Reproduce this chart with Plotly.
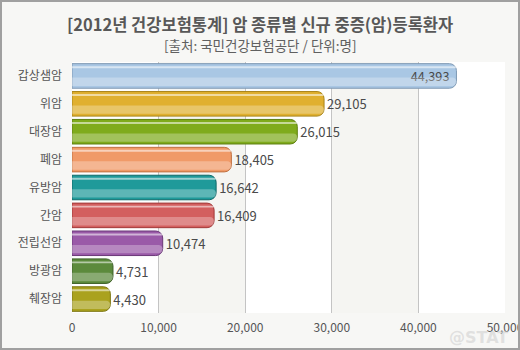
import plotly.graph_objects as go

categories = ["갑상샘암", "위암", "대장암", "폐암", "유방암", "간암", "전립선암", "방광암", "췌장암"]
patients = [44393, 29105, 26015, 18405, 16642, 16409, 10474, 4731, 4430]
base_colors = ["#a9c7e4", "#e0b030", "#7fab1c", "#f09a68", "#1f9a9a", "#d35f5f", "#9a5aa8", "#5c8a3c", "#aaa21e"]
edge_colors = ["#7d98b3", "#a88418", "#5e7f10", "#c07040", "#0f6868", "#a03838", "#6a3878", "#3e6028", "#7c7612"]
x_ticks = [0, 10000, 20000, 30000, 40000, 50000]

W, H = 520, 350
ML, MR, MT, MB = 72, 15, 62, 37
PW, PH = W - ML - MR, H - MT - MB
FONT = "Noto Sans CJK KR"

fig = go.Figure()

# base bars
fig.add_trace(go.Bar(
    y=categories, x=patients, orientation="h",
    offset=-0.44, width=0.88,
    marker=dict(color=base_colors, line=dict(color=edge_colors, width=1), cornerradius=7),
    text=[f"{v:,}" for v in patients],
    textposition=["inside"] + ["outside"] * (len(patients) - 1),
    insidetextanchor="end",
    textfont=dict(family=FONT, size=13, color="#4a4a4a"),
    cliponaxis=False, hoverinfo="skip", showlegend=False,
))
# lower lighter half (gloss)
fig.add_trace(go.Bar(
    y=categories, x=patients, orientation="h",
    offset=0.06, width=0.30,
    marker=dict(color="rgba(255,255,255,0.28)", line=dict(width=0), cornerradius=5),
    hoverinfo="skip", showlegend=False,
))
# top highlight stripe
fig.add_trace(go.Bar(
    y=categories, x=patients, orientation="h",
    offset=-0.35, width=0.07,
    marker=dict(color="rgba(255,255,255,0.55)", line=dict(width=0), cornerradius=1),
    hoverinfo="skip", showlegend=False,
))

shapes = []
# alternating bands
for a, b in [(10000, 20000), (30000, 40000)]:
    shapes.append(dict(type="rect", xref="x", yref="paper", x0=a, x1=b, y0=0, y1=1,
                       fillcolor="#f5f5f2", line=dict(width=0), layer="below"))
# outer border of the whole chart
shapes.append(dict(type="rect", xref="paper", yref="paper",
                   x0=(1 - ML) / PW, x1=(W - 1 - ML) / PW,
                   y0=-(MB - 1) / PH, y1=1 + (MT - 1) / PH,
                   line=dict(color="#a0a0a0", width=2), fillcolor="rgba(0,0,0,0)", layer="above"))

fig.update_layout(
    width=W, height=H,
    margin=dict(l=ML, r=MR, t=MT, b=MB, pad=0, autoexpand=False),
    paper_bgcolor="#f7f7f5", plot_bgcolor="#ffffff",
    barmode="overlay",
    font=dict(family=FONT, color="#555555"),
    shapes=shapes,
    annotations=[
        dict(text="<b>[2012년 건강보험통계] 암 종류별 신규 중증(암)등록환자</b>", xref="paper", yref="paper",
             x=(260 - ML) / PW, y=1 + (MT - 24) / PH, xanchor="center", yanchor="middle",
             showarrow=False, font=dict(family=FONT, size=16.5, color="#585858")),
        dict(text="[출처: 국민건강보험공단 / 단위:명]", xref="paper", yref="paper",
             x=(260 - ML) / PW, y=1 + (MT - 45) / PH, xanchor="center", yanchor="middle",
             showarrow=False, font=dict(family=FONT, size=13.5, color="#606060")),
        dict(text="<b>@STAT</b>", xref="paper", yref="paper",
             x=(478 - ML) / PW, y=-(337 - MT - PH) / PH, xanchor="center", yanchor="middle",
             showarrow=False, font=dict(family="DejaVu Sans", size=16, color="rgba(205,205,205,0.55)")),
    ],
    xaxis=dict(range=[0, 50000], tickvals=x_ticks, tickformat=",", showgrid=True,
               gridcolor="#c4c4c4", gridwidth=1, zeroline=False, showline=False, ticks="",
               ticklabelstandoff=6, ticklabeloverflow="allow", automargin=False,
               tickfont=dict(family=FONT, size=12, color="#555555"), fixedrange=True),
    yaxis=dict(autorange="reversed", showgrid=False, zeroline=False, showline=False, ticks="",
               ticklabelstandoff=9, automargin=False,
               tickfont=dict(family=FONT, size=12, color="#555555"), fixedrange=True),
)

fig.write_html("out.html")
